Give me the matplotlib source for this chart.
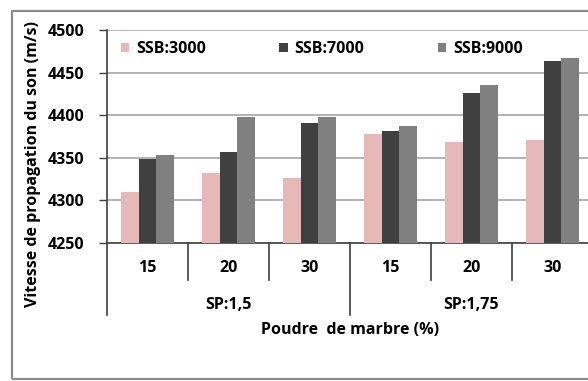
import matplotlib
matplotlib.use("Agg")
import matplotlib.pyplot as plt
from matplotlib.patches import Rectangle
import numpy as np

plt.rcParams['font.family'] = ['Open Sans', 'DejaVu Sans']
plt.rcParams['font.weight'] = 'bold'

sub_labels = ["15", "20", "30", "15", "20", "30"]
group_labels = ["SP:1,5", "SP:1,75"]
series_names = ["SSB:3000", "SSB:7000", "SSB:9000"]
ssb3000 = [4310, 4332, 4326, 4378, 4368, 4371]
ssb7000 = [4349, 4357, 4391, 4382, 4426, 4464]
ssb9000 = [4353, 4398, 4398, 4387, 4435, 4467]
colors = ["#E6B9B8", "#404040", "#808080"]
y_ticks = [4250, 4300, 4350, 4400, 4450, 4500]

W, H = 588, 381
FS = 11.5
fig = plt.figure(figsize=(W / 100, H / 100), dpi=100)
fig.patch.set_facecolor("white")

# outer chart frame
fig.patches.append(Rectangle((12 / W, 1 - 379 / H), 1.2, (379 - 11) / H,
                             transform=fig.transFigure, fill=False,
                             edgecolor="#8a8a8a", lw=1.6, zorder=0))

ax = fig.add_axes([107 / W, 1 - 243 / H, (593 - 107) / W, (243 - 30) / H])
x = np.arange(len(sub_labels))
bw = 0.222
for i, (vals, name, c) in enumerate(zip([ssb3000, ssb7000, ssb9000], series_names, colors)):
    ax.bar(x + (i - 1) * bw, np.array(vals) - 4250, bw, bottom=4250, color=c,
           label=name, zorder=3)

ax.set_xlim(-0.5, len(sub_labels) - 0.5)
ax.set_ylim(4250, 4500)
ax.set_yticks(y_ticks)
ax.set_yticklabels([str(v) for v in y_ticks], fontsize=FS, fontweight="bold")
ax.yaxis.grid(True, color="#a6a6a6", lw=1.2, zorder=0)
ax.set_axisbelow(True)
ax.tick_params(axis="y", length=6, width=1, color="#404040", pad=10)
ax.set_xticks([])
for s in ["top", "right"]:
    ax.spines[s].set_visible(False)
ax.spines["left"].set_color("#404040")
ax.spines["bottom"].set_color("#404040")
ax.spines["left"].set_linewidth(1.2)
ax.spines["bottom"].set_linewidth(1.2)

tr = ax.get_xaxis_transform()
# separators of multi-level category axis
for k in range(len(sub_labels) + 1):
    xs = k - 0.5
    long = (k % 3 == 0)
    ax.plot([xs, xs], [0, -0.338 if long else -0.174], transform=tr,
            color="#404040", lw=1.2, clip_on=False)
for k, lab in enumerate(sub_labels):
    ax.text(k, -0.117, lab, transform=tr, ha="center", va="center",
            fontsize=FS, fontweight="bold")
for g, lab in enumerate(group_labels):
    ax.text(g * 3 + 1, -0.291, lab, transform=tr, ha="center", va="center",
            fontsize=FS, fontweight="bold")
ax.text(2.5, -0.41, "Poudre  de marbre (%)", transform=tr, ha="center",
        va="center", fontsize=FS, fontweight="bold")

fig.text(33 / W, 1 - 164 / H, "Vitesse de propagation du son (m/s)",
         rotation=90, ha="center", va="center", fontsize=FS, fontweight="bold")

leg = ax.legend(loc="upper left", bbox_to_anchor=(0.005, 1.0), ncol=3,
                frameon=False, fontsize=FS, handlelength=0.55, handleheight=0.55,
                handletextpad=0.4, columnspacing=4.6, borderaxespad=0.3)
for t in leg.get_texts():
    t.set_fontweight("bold")

fig.savefig("out.png", dpi=100, facecolor="white")
